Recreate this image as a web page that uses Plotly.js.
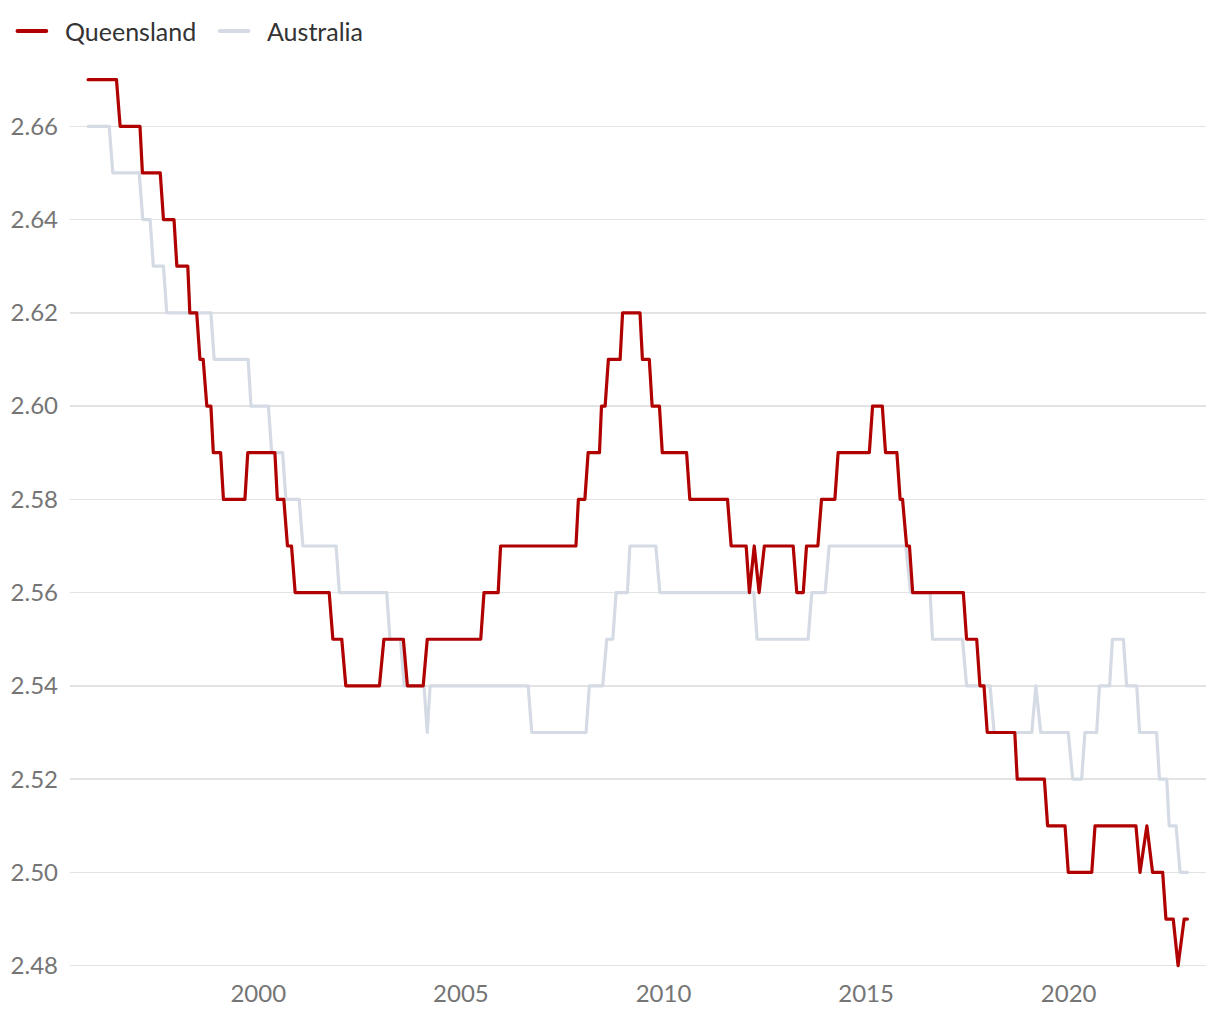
<!DOCTYPE html>
<html>
<head>
<meta charset="utf-8">
<script src="https://cdn.plot.ly/plotly-3.0.1.min.js"></script>
<style>
  html, body { margin: 0; padding: 0; background: #ffffff; }
  #chart { width: 1220px; height: 1020px; }
  #chart path.js-line { stroke-linejoin: round; stroke-linecap: round; }
  #chart .shapelayer path { stroke-linecap: round; }
</style>
</head>
<body>
<div id="chart"></div>
<script>
// Series names and colours
const seriesNames = ["Queensland", "Australia"];
const seriesColors = ["#b00000", "#d5dbe4"];

// Queensland: each level with the (decimal) year it starts and ends
const qldValue = [2.67,2.66,2.65,2.64,2.63,2.62,2.61,2.60,2.59,2.58,2.59,2.58,2.57,2.56,2.55,2.54,2.55,2.54,2.55,2.56,2.57,2.58,2.59,2.60,2.61,2.62,2.61,2.60,2.59,2.58,2.57,2.56,2.57,2.56,2.57,2.56,2.57,2.58,2.59,2.60,2.59,2.58,2.57,2.56,2.55,2.54,2.53,2.52,2.51,2.50,2.51,2.50,2.51,2.50,2.49,2.48,2.49];
const qldFrom = [1995.80,1996.59,1997.14,1997.66,1997.99,1998.31,1998.56,1998.73,1998.89,1999.14,1999.74,2000.47,2000.72,2000.91,2001.84,2002.16,2003.10,2003.68,2004.17,2005.57,2005.98,2007.90,2008.14,2008.47,2008.64,2008.99,2009.48,2009.72,2009.97,2010.65,2011.67,2012.12,2012.24,2012.36,2012.49,2013.29,2013.53,2013.90,2014.31,2015.16,2015.48,2015.84,2016.00,2016.15,2017.48,2017.81,2017.99,2018.73,2019.48,2019.99,2020.65,2021.76,2021.93,2022.07,2022.40,2022.70,2022.85];
const qldTo = [1996.50,1997.08,1997.58,1997.92,1998.26,1998.48,1998.64,1998.83,1999.07,1999.67,2000.41,2000.63,2000.82,2001.75,2002.06,2002.99,2003.58,2004.07,2005.49,2005.92,2007.84,2008.06,2008.42,2008.56,2008.93,2009.42,2009.65,2009.90,2010.57,2011.58,2012.04,2012.12,2012.24,2012.36,2013.20,2013.45,2013.81,2014.23,2015.08,2015.40,2015.76,2015.90,2016.07,2017.40,2017.73,2017.91,2018.67,2019.40,2019.91,2020.57,2021.66,2021.76,2021.93,2022.32,2022.58,2022.70,2022.93];

// Australia: each level with the (decimal) year it starts and ends
const ausValue = [2.66,2.65,2.64,2.63,2.62,2.61,2.60,2.59,2.58,2.57,2.56,2.55,2.54,2.53,2.54,2.53,2.54,2.55,2.56,2.57,2.56,2.55,2.56,2.57,2.56,2.55,2.54,2.53,2.54,2.53,2.52,2.53,2.54,2.55,2.54,2.53,2.52,2.51,2.50];
const ausFrom = [1995.80,1996.41,1997.15,1997.41,1997.74,1998.91,1999.82,2000.33,2000.68,2001.10,2002.00,2003.25,2003.60,2004.17,2004.24,2006.75,2008.17,2008.60,2008.83,2009.17,2009.91,2012.31,2013.66,2014.09,2016.10,2016.64,2017.48,2018.16,2019.19,2019.31,2020.10,2020.40,2020.76,2021.08,2021.43,2021.75,2022.24,2022.48,2022.75];
const ausTo = [1996.32,1997.06,1997.33,1997.66,1998.83,1999.75,2000.25,2000.60,2001.01,2001.92,2003.17,2003.51,2004.09,2004.17,2006.66,2008.09,2008.50,2008.75,2009.11,2009.81,2012.23,2013.57,2013.99,2015.98,2016.58,2017.38,2018.06,2019.09,2019.19,2019.99,2020.32,2020.69,2021.01,2021.35,2021.68,2022.17,2022.42,2022.65,2022.93];

// Axis ticks
const yTicks = [2.48,2.50,2.52,2.54,2.56,2.58,2.60,2.62,2.64,2.66];
const yTickText = ["2.48","2.50","2.52","2.54","2.56","2.58","2.60","2.62","2.64","2.66"];
const xTicks = [2000,2005,2010,2015,2020];
const xTickText = ["2000","2005","2010","2015","2020"];

function buildPath(values, from, to) {
  const x = [], y = [];
  for (let i = 0; i < values.length; i++) {
    x.push(from[i]); y.push(values[i]);
    if (to[i] !== from[i]) { x.push(to[i]); y.push(values[i]); }
  }
  return {x, y};
}

const qld = buildPath(qldValue, qldFrom, qldTo);
const aus = buildPath(ausValue, ausFrom, ausTo);

const FONT = "Lato, 'Open Sans', sans-serif";

const traces = [
  {
    type: "scatter", mode: "lines", name: seriesNames[1],
    x: aus.x, y: aus.y,
    line: {color: seriesColors[1], width: 3.2, shape: "linear"},
    hoverinfo: "skip", showlegend: false
  },
  {
    type: "scatter", mode: "lines", name: seriesNames[0],
    x: qld.x, y: qld.y,
    line: {color: seriesColors[0], width: 3.2, shape: "linear"},
    hoverinfo: "skip", showlegend: false
  }
];

// Legend drawn as shapes + annotations (paper coordinates)
const legendY = 1.0328;
const legendSamples = [
  {x0: -0.0462, x1: -0.0209, textX: -0.0062},
  {x0: 0.1318, x1: 0.1571, textX: 0.1719}
];
const shapes = legendSamples.map((s, i) => ({
  type: "line", xref: "paper", yref: "paper",
  x0: s.x0, x1: s.x1, y0: legendY, y1: legendY,
  line: {color: seriesColors[i], width: 4}
}));
const annotations = legendSamples.map((s, i) => ({
  xref: "paper", yref: "paper", x: s.textX, y: legendY,
  xanchor: "left", yanchor: "middle", showarrow: false,
  text: seriesNames[i],
  font: {family: FONT, size: 25, color: "#333333"}
}));

const layout = {
  width: 1220, height: 1020,
  paper_bgcolor: "#ffffff", plot_bgcolor: "#ffffff",
  font: {family: FONT, size: 24, color: "#757575"},
  margin: {l: 70, r: 14, t: 61, b: 45},
  showlegend: false,
  shapes: shapes,
  annotations: annotations,
  xaxis: {
    type: "linear",
    range: [1995.353, 2023.389],
    tickvals: xTicks, ticktext: xTickText,
    showgrid: false, zeroline: false, showline: false,
    ticks: "", ticklabelstandoff: 2,
    tickfont: {family: FONT, size: 24, color: "#757575"}
  },
  yaxis: {
    range: [2.478, 2.674],
    tickvals: yTicks, ticktext: yTickText,
    showgrid: true, gridcolor: "#e3e3e3", gridwidth: 1.5,
    zeroline: false, showline: false,
    ticks: "", ticklabelstandoff: 11,
    tickfont: {family: FONT, size: 24, color: "#757575"}
  }
};

Plotly.newPlot("chart", traces, layout, {displayModeBar: false, staticPlot: true});
</script>
</body>
</html>
